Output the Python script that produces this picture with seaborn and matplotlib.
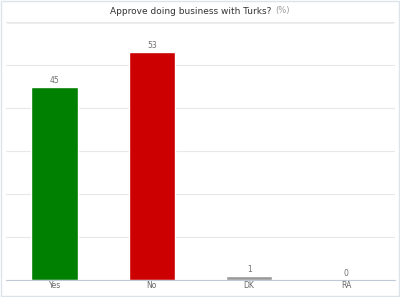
import matplotlib
matplotlib.use("Agg")
import matplotlib.pyplot as plt
import seaborn as sns
import pandas as pd
from matplotlib.patches import Rectangle
from matplotlib.lines import Line2D

categories = ["Yes", "No", "DK", "RA"]
values = [45, 53, 1, 0]
colors = ["#008000", "#cc0000", "#999999", "#999999"]

sns.set_style("white")
plt.rcParams['font.family'] = ['DejaVu Sans']

df = pd.DataFrame({"cat": categories, "val": values})
fig = plt.figure(figsize=(4.0, 2.97), dpi=100)
ax = fig.add_axes([6/400, 1-280/297, 389/400, 258/297])
sns.barplot(data=df, x="cat", y="val", hue="cat", palette=colors, width=0.48,
            legend=False, ax=ax, saturation=1)
ax.set_ylim(0, 60)
ax.set_xlim(-0.5, 3.5)
ax.set_yticks(range(0, 61, 10))
ax.yaxis.grid(True, color="#e8e8e8", linewidth=0.8)
ax.set_axisbelow(True)
ax.set_yticklabels([])
ax.tick_params(axis="y", length=0)
ax.set_xlabel("")
ax.set_ylabel("")
for s in ["top", "right", "left"]:
    ax.spines[s].set_visible(False)
ax.spines["bottom"].set_color("#c0cad6")
ax.spines["bottom"].set_linewidth(0.8)
ax.tick_params(axis="x", length=0, labelsize=5.5, labelcolor="#666666", pad=1)
ax.set_xticks(range(len(categories)))
ax.set_xticklabels(categories)
ax.set_xticks([0.5, 1.5, 2.5, 3.5, -0.5], minor=True)
ax.tick_params(axis="x", which="minor", length=3, color="#c0cad6", width=0.8)
for i, v in enumerate(values):
    ax.text(i, v + 0.4, str(v), ha="center", va="bottom", fontsize=5.5, color="#707070")

# title
fig.text(274/400, 1-11/297, "Approve doing business with Turks? ", ha="right", va="center",
         fontsize=6.5, color="#333333")
fig.text(275/400, 1-11/297, "(%)", ha="left", va="center", fontsize=6.0, color="#999999")
fig.add_artist(Line2D([7/400, 393/400], [1-23/297, 1-23/297], color="#eeeeee", lw=0.8,
                      transform=fig.transFigure))
fig.add_artist(Rectangle((1/400, 1/297), 398/400, 295/297, fill=False, edgecolor="#dde3ea",
                         lw=1.0, transform=fig.transFigure))
fig.savefig("out.png", dpi=100)
